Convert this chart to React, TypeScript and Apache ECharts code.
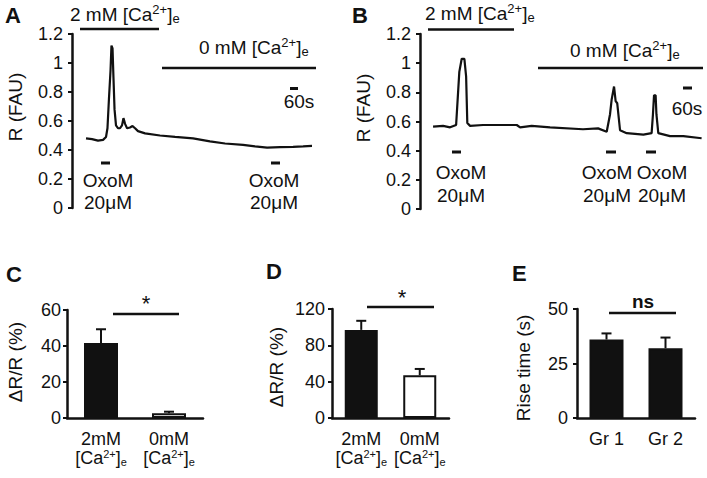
import React, { useEffect, useRef } from 'react';
import * as echarts from 'echarts';

const FONT = '"Liberation Sans", Arial, Helvetica, sans-serif';
const INK = '#111';

// Panel A trace: time (s) and ratio R (FAU)
const traceATime = [0, 45, 90, 128, 150, 161, 172, 184, 191, 199, 206, 214, 225, 240, 255, 270, 281, 293, 308, 330, 349, 368, 390, 443, 555, 668, 803, 930, 1043, 1178, 1268, 1358, 1455, 1553, 1628, 1695];
const traceAR = [0.48, 0.475, 0.465, 0.47, 0.49, 0.55, 0.75, 0.95, 1.12, 1.10, 0.90, 0.68, 0.57, 0.55, 0.55, 0.57, 0.62, 0.58, 0.55, 0.555, 0.565, 0.55, 0.53, 0.515, 0.50, 0.49, 0.48, 0.46, 0.445, 0.435, 0.425, 0.416, 0.42, 0.422, 0.425, 0.428];

// Panel B trace
const traceBTime = [0, 75, 128, 173, 197, 215, 235, 248, 257, 278, 375, 503, 628, 653, 740, 878, 1125, 1238, 1303, 1328, 1340, 1358, 1370, 1382, 1403, 1453, 1578, 1640, 1650, 1658, 1670, 1676, 1690, 1778, 1878, 2015];
const traceBR = [0.565, 0.57, 0.56, 0.576, 0.94, 1.03, 1.03, 0.91, 0.59, 0.57, 0.576, 0.576, 0.576, 0.56, 0.57, 0.56, 0.547, 0.553, 0.53, 0.65, 0.75, 0.84, 0.74, 0.725, 0.54, 0.52, 0.51, 0.52, 0.65, 0.78, 0.78, 0.65, 0.52, 0.50, 0.50, 0.485];

const traceTicks = [0, 0.2, 0.4, 0.6, 0.8, 1, 1.2];

// Panel C
const cCategories = ['2mM', '0mM'];
const cValues = [41.7, 2.6];
const cErrors = [7.6, 0.9];
// Panel D
const dCategories = ['2mM', '0mM'];
const dValues = [97, 47];
const dErrors = [10, 7];
// Panel E
const eCategories = ['Gr 1', 'Gr 2'];
const eValues = [36, 32];
const eErrors = [2.8, 4.9];

const zip = (a: number[], b: number[]) => a.map((v, i) => [v, b[i]]);

const BLACK = { color: INK, borderColor: INK, borderWidth: 2 };
const WHITE = { color: '#fff', borderColor: INK, borderWidth: 2 };

const subSupRich = (size: number) => ({
  sup: { fontSize: size, lineHeight: size, verticalAlign: 'top', fontFamily: FONT, fill: INK, color: INK },
  sub: { fontSize: size, lineHeight: size, verticalAlign: 'bottom', fontFamily: FONT, fill: INK, color: INK },
});

const yAxisBase = (gridIndex: number, max: number, interval: number, margin: number) => ({
  type: 'value',
  gridIndex,
  min: 0,
  max,
  interval,
  axisLine: { show: true, onZero: false, lineStyle: { color: INK, width: 2.5 } },
  axisTick: { show: true, length: 4, lineStyle: { color: INK, width: 2 } },
  splitLine: { show: false },
  axisLabel: { color: INK, fontSize: 18, fontFamily: FONT, margin },
});

const catAxis = (gridIndex: number, data: string[], ca: boolean) => ({
  type: 'category',
  gridIndex,
  data,
  z: 1,
  axisLine: { show: true, lineStyle: { color: INK, width: 2.5 } },
  axisTick: { show: false },
  axisLabel: {
    color: INK,
    fontSize: 18,
    fontFamily: FONT,
    lineHeight: 19,
    margin: 11,
    interval: 0,
    formatter: ca ? (v: string) => `${v}\n[Ca{sup|2+}]{sub|e}` : (v: string) => v,
    rich: subSupRich(11),
  },
});

const errorSeries = (idx: number, values: number[], errors: number[]) => ({
  type: 'custom',
  xAxisIndex: idx,
  yAxisIndex: idx,
  z: 5,
  data: values.map((v, i) => [i, v, errors[i]]),
  encode: { x: 0, y: 1 },
  renderItem: (_p: any, api: any) => {
    const x = api.value(0);
    const y = api.value(1);
    const e = api.value(2);
    const p0 = api.coord([x, y]);
    const p1 = api.coord([x, y + e]);
    const st = { stroke: INK, lineWidth: 2 };
    return {
      type: 'group',
      children: [
        { type: 'line', shape: { x1: p0[0], y1: p0[1], x2: p1[0], y2: p1[1] }, style: st },
        { type: 'line', shape: { x1: p1[0] - 5, y1: p1[1], x2: p1[0] + 5, y2: p1[1] }, style: st },
      ],
    };
  },
});

const txt = (x: number, y: number, text: string, o: any = {}) => ({
  type: 'text',
  x,
  y,
  rotation: o.rotation || 0,
  z: 10,
  style: {
    text,
    fill: INK,
    fontSize: o.size || 19,
    fontFamily: FONT,
    fontWeight: o.bold ? 'bold' : 'normal',
    align: o.align || 'center',
    verticalAlign: 'middle',
    lineHeight: o.lh || 22,
    rich: subSupRich(13),
  },
});

const hline = (x1: number, x2: number, y: number, w = 2.5) => ({
  type: 'line',
  z: 10,
  shape: { x1, y1: y, x2, y2: y },
  style: { stroke: INK, lineWidth: w },
});

const CA2 = '2 mM [Ca{sup|2+}]{sub|e}';
const CA0 = '0 mM [Ca{sup|2+}]{sub|e}';

const graphics = [
  // Panel A
  txt(5, 15, 'A', { bold: true, size: 22, align: 'left' }),
  txt(70, 14, CA2, { align: 'left' }),
  hline(80, 159, 29),
  txt(199, 47, CA0, { align: 'left' }),
  hline(162, 316, 68),
  hline(290, 298, 88.5, 3),
  txt(299, 101, '60s'),
  hline(101, 110, 163, 3),
  txt(108, 180, 'OxoM'),
  txt(108, 202, '20μM'),
  hline(271, 280, 163, 3),
  txt(274, 180, 'OxoM'),
  txt(274, 202, '20μM'),
  txt(15, 107, 'R (FAU)', { rotation: Math.PI / 2 }),
  // Panel B
  txt(352, 15, 'B', { bold: true, size: 22, align: 'left' }),
  txt(425, 13, CA2, { align: 'left' }),
  hline(428, 514, 29.5),
  txt(570, 50, CA0, { align: 'left' }),
  hline(538, 703, 68),
  hline(683, 692, 88, 3),
  txt(687, 108, '60s'),
  hline(452, 461, 152, 3),
  hline(606, 616, 152, 3),
  hline(646, 656, 152, 3),
  txt(461, 172, 'OxoM'),
  txt(461, 195, '20μM'),
  txt(607, 172, 'OxoM'),
  txt(607, 195, '20μM'),
  txt(662, 172, 'OxoM'),
  txt(662, 195, '20μM'),
  txt(363, 108, 'R (FAU)', { rotation: Math.PI / 2 }),
  // Panel C
  txt(6, 274, 'C', { bold: true, size: 22, align: 'left' }),
  hline(113, 179, 314),
  txt(146, 303, '*', { size: 22 }),
  txt(15, 362, 'ΔR/R (%)', { rotation: Math.PI / 2 }),
  // Panel D
  txt(266, 271, 'D', { bold: true, size: 22, align: 'left' }),
  hline(367, 434, 307),
  txt(402, 297, '*', { size: 22 }),
  txt(276, 367, 'ΔR/R (%)', { rotation: Math.PI / 2 }),
  // Panel E
  txt(512, 273, 'E', { bold: true, size: 22, align: 'left' }),
  hline(609, 676, 313),
  txt(643, 301, 'ns', { bold: true, size: 19 }),
  txt(523, 368, 'Rise time (s)', { rotation: Math.PI / 2 }),
];

const option: any = {
  animation: false,
  backgroundColor: '#fff',
  grid: [
    { left: 72, top: 34, width: 248, height: 174 },
    { left: 420, top: 34, width: 286, height: 175 },
    { left: 67, top: 310, width: 136, height: 108 },
    { left: 332, top: 309, width: 117, height: 109 },
    { left: 577, top: 309, width: 118, height: 109 },
  ],
  xAxis: [
    { type: 'value', gridIndex: 0, min: -105, max: 1755, show: false },
    { type: 'value', gridIndex: 1, min: -98, max: 2048, show: false },
    catAxis(2, cCategories, true),
    catAxis(3, dCategories, true),
    catAxis(4, eCategories, false),
  ],
  yAxis: [
    yAxisBase(0, traceTicks[traceTicks.length - 1], traceTicks[1] - traceTicks[0], 9),
    yAxisBase(1, traceTicks[traceTicks.length - 1], traceTicks[1] - traceTicks[0], 9),
    yAxisBase(2, 60, 20, 6),
    yAxisBase(3, 120, 40, 7),
    yAxisBase(4, 50, 25, 9),
  ],
  series: [
    {
      type: 'line', xAxisIndex: 0, yAxisIndex: 0, showSymbol: false, symbol: 'none',
      data: zip(traceATime, traceAR), lineStyle: { color: INK, width: 2.2 },
    },
    {
      type: 'line', xAxisIndex: 1, yAxisIndex: 1, showSymbol: false, symbol: 'none',
      data: zip(traceBTime, traceBR), lineStyle: { color: INK, width: 2.2 },
    },
    {
      type: 'bar', xAxisIndex: 2, yAxisIndex: 2, barWidth: 34, z: 3,
      data: cValues.map((v, i) => ({ value: v, itemStyle: i === 0 ? BLACK : WHITE })),
    },
    errorSeries(2, cValues, cErrors),
    {
      type: 'bar', xAxisIndex: 3, yAxisIndex: 3, barWidth: 33, z: 3,
      data: dValues.map((v, i) => ({ value: v, itemStyle: i === 0 ? BLACK : WHITE })),
    },
    errorSeries(3, dValues, dErrors),
    {
      type: 'bar', xAxisIndex: 4, yAxisIndex: 4, barWidth: 34, z: 3,
      data: eValues.map((v) => ({ value: v, itemStyle: BLACK })),
    },
    errorSeries(4, eValues, eErrors),
  ],
  graphic: graphics,
};

export default function App() {
  const ref = useRef<HTMLDivElement>(null);
  useEffect(() => {
    if (!ref.current) return;
    const chart = echarts.init(ref.current, undefined, { renderer: 'svg', width: 707, height: 478 });
    chart.setOption(option);
    return () => chart.dispose();
  }, []);
  return (
    <div
      ref={ref}
      style={{ position: 'fixed', left: 0, top: 0, width: 707, height: 478, background: '#fff' }}
    />
  );
}
